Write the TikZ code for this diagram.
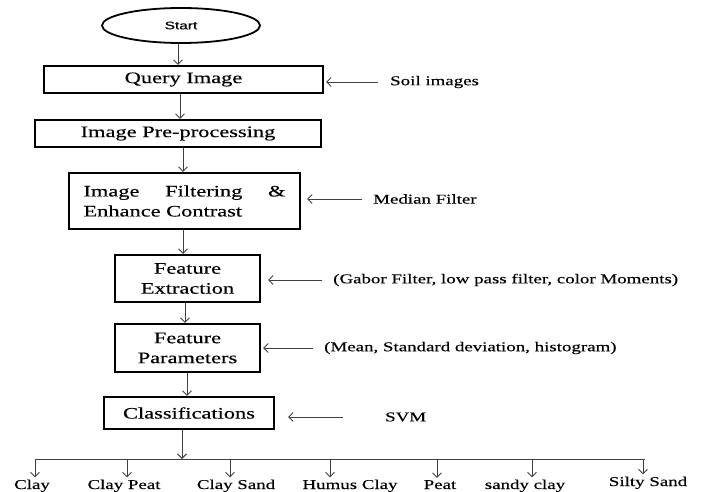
\documentclass[tikz,border=0pt]{standalone}
\usepackage{fontspec}
\setmainfont{Liberation Serif}[FakeStretch=1.4,FakeBold=0.3]
\newfontfamily\startfont{Liberation Sans}[FakeStretch=1.4,FakeBold=0.3]
\usetikzlibrary{arrows.meta,shapes.geometric}
\tikzset{
  box/.style={draw=black, line width=2.2pt, inner sep=0pt, font=\fontsize{16}{20}\selectfont, align=center},
  arr/.style={draw=black!75, line width=0.9pt, -{Straight Barb[length=4.5pt,width=9pt]}},
  note/.style={inner sep=0pt, anchor=west, font=\fontsize{13.5}{16}\selectfont},
  leaf/.style={inner sep=2pt, anchor=base, font=\fontsize{13.5}{16}\selectfont},
}
\begin{document}
\begin{tikzpicture}[x=1pt,y=-1pt]
\useasboundingbox (0,0) rectangle (701,492);
% main flow
\node[draw=black, line width=1.8pt, ellipse, minimum width=158pt, minimum height=35pt, inner sep=0pt, font=\startfont\fontsize{11}{13}\selectfont] (start) at (181,25.5) {Start};
\node[box, minimum width=279pt, minimum height=27pt] (q) at (183.5,79.5) {Query Image};
\node[box, minimum width=286pt, minimum height=27pt] (pre) at (178,133.5) {Image Pre-processing};
\node[box, minimum width=231pt, minimum height=56pt] (filt) at (184.5,201) {\parbox{202pt}{Image\hfill Filtering\hfill\&\\Enhance Contrast}};
\node[box, minimum width=145pt, minimum height=47pt] (fe) at (187.5,278.5) {Feature\\Extraction};
\node[box, minimum width=145pt, minimum height=48pt] (fp) at (187.5,348) {Feature\\Parameters};
\node[box, minimum width=170pt, minimum height=32pt] (cl) at (189,413) {Classifications};
% side notes
\node[note] (soil) at (390,82) {Soil images};
\node[note] (med) at (373,199) {Median Filter};
\node[note] (gab) at (333,280) {(Gabor Filter, low pass filter, color Moments)};
\node[note] (mean) at (324,348) {(Mean, Standard deviation, histogram)};
\node[note] (svm) at (385,417) {SVM};
% vertical arrows
\draw[arr] ([xshift=-3pt]start.south) -- ([xshift=-5.5pt]q.north);
\draw[arr] ([xshift=-3.5pt]q.south) -- ([xshift=2pt]pre.north);
\draw[arr] ([xshift=5pt]pre.south) -- ([xshift=-1.5pt]filt.north);
\draw[arr] ([xshift=-1.5pt]filt.south) -- ([xshift=-4.5pt]fe.north);
\draw[arr] ([xshift=-2.5pt]fe.south) -- ([xshift=-2.5pt]fp.north);
\draw[arr] ([xshift=-0.5pt]fp.south) -- ([xshift=-2pt]cl.north);
% side arrows
\draw[arr, shorten >=2pt] ([xshift=-12pt]soil.west) -- (q.east |- soil.west);
\draw[arr, shorten >=6pt] ([xshift=-11pt]med.west) -- (filt.east |- med.west);
\draw[arr, shorten >=7pt] ([xshift=-11pt]gab.west) -- (fe.east |- gab.west);
\draw[arr, shorten >=2pt] ([xshift=-11pt]mean.west) -- (fp.east |- mean.west);
\draw[arr, shorten >=13pt] ([xshift=-42pt]svm.west) -- (cl.east |- svm.west);
% bus
\coordinate (bus) at (182,459);
\coordinate (busL) at (35,459);
\coordinate (busR) at (645,459);
\draw[arr] ([xshift=-7pt]cl.south) -- (bus);
\draw[draw=black!75, line width=0.9pt] (busL) -- (busR);
% leaves
\node[leaf] (l1) at (32,489) {Clay};
\node[leaf] (l2) at (124,489) {Clay Peat};
\node[leaf] (l3) at (236,489) {Clay Sand};
\node[leaf] (l4) at (350,489) {Humus Clay};
\node[leaf] (l5) at (440,489) {Peat};
\node[leaf] (l6) at (525,489) {sandy clay};
\node[leaf] (l7) at (648,486) {Silty Sand};
\coordinate (b1) at (35,459);
\coordinate (b2) at (127,459);
\coordinate (b3) at (230,459);
\coordinate (b4) at (330,459);
\coordinate (b5) at (437,459);
\coordinate (b6) at (532,459);
\coordinate (b7) at (643,459);
\draw[arr] (b1) -- (b1 |- l1.north);
\draw[arr] (b2) -- (b2 |- l2.north);
\draw[arr] (b3) -- (b3 |- l3.north);
\draw[arr] (b4) -- (b4 |- l4.north);
\draw[arr] (b5) -- (b5 |- l5.north);
\draw[arr] (b6) -- (b6 |- l6.north);
\draw[arr] (b7) -- (b7 |- l7.north);
\end{tikzpicture}
\end{document}
